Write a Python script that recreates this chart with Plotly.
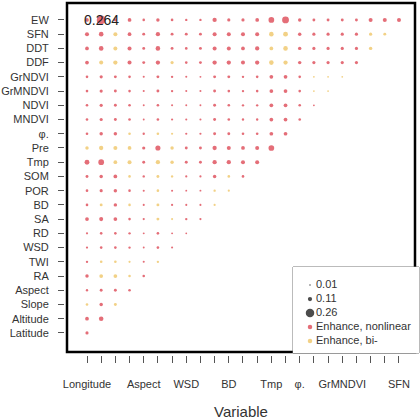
import plotly.graph_objects as go

# Column (x) variables, left to right
col_vars = ["Longitude", "Latitude", "Altitude", "Slope", "Aspect", "RA", "TWI",
            "WSD", "RD", "SA", "BD", "POR", "SOM", "Tmp", "Pre", "φ.", "MNDVI",
            "NDVI", "GrMNDVI", "GrNDVI", "DDF", "DDT", "SFN"]
# Row (y) variables, bottom to top
row_vars = ["Latitude", "Altitude", "Slope", "Aspect", "RA", "TWI", "WSD", "RD",
            "SA", "BD", "POR", "SOM", "Tmp", "Pre", "φ.", "MNDVI", "NDVI",
            "GrMNDVI", "GrNDVI", "DDF", "DDT", "SFN", "EW"]
shown_x_labels = ["Longitude", "Aspect", "WSD", "BD", "Tmp", "φ.", "GrMNDVI", "SFN"]

# interaction strength, one list per row (lower triangle)
strength = [
    [0.06],
    [0.08, 0.11],
    [0.04, 0.07, 0.05],
    [0.03, 0.05, 0.05, 0.04],
    [0.07, 0.08, 0.08, 0.04, 0.04],
    [0.03, 0.04, 0.04, 0.025, 0.02, 0.03],
    [0.025, 0.04, 0.04, 0.03, 0.015, 0.04, 0.02],
    [0.025, 0.04, 0.04, 0.03, 0.015, 0.04, 0.015, 0.01],
    [0.08, 0.09, 0.08, 0.04, 0.025, 0.05, 0.02, 0.03, 0.025],
    [0.04, 0.05, 0.07, 0.04, 0.02, 0.05, 0.025, 0.02, 0.02, 0.025],
    [0.04, 0.06, 0.07, 0.04, 0.02, 0.04, 0.02, 0.015, 0.015, 0.03, 0.025],
    [0.05, 0.07, 0.08, 0.04, 0.03, 0.05, 0.03, 0.025, 0.025, 0.07, 0.04, 0.04],
    [0.12, 0.15, 0.08, 0.09, 0.05, 0.10, 0.07, 0.05, 0.05, 0.10, 0.10, 0.09, 0.09],
    [0.07, 0.10, 0.09, 0.08, 0.06, 0.13, 0.07, 0.05, 0.05, 0.10, 0.09, 0.08, 0.09, 0.15],
    [0.04, 0.07, 0.07, 0.04, 0.03, 0.04, 0.025, 0.025, 0.025, 0.05, 0.05, 0.04, 0.04, 0.08, 0.08],
    [0.04, 0.06, 0.05, 0.04, 0.015, 0.04, 0.025, 0.02, 0.02, 0.05, 0.04, 0.03, 0.03, 0.08, 0.08, 0.04],
    [0.04, 0.06, 0.05, 0.04, 0.015, 0.04, 0.02, 0.015, 0.015, 0.05, 0.04, 0.03, 0.03, 0.08, 0.08, 0.04, 0.01],
    [0.04, 0.06, 0.05, 0.04, 0.02, 0.05, 0.03, 0.02, 0.02, 0.05, 0.04, 0.03, 0.04, 0.08, 0.08, 0.04, 0.01, 0.01],
    [0.04, 0.06, 0.05, 0.04, 0.02, 0.05, 0.03, 0.02, 0.015, 0.05, 0.05, 0.03, 0.04, 0.08, 0.08, 0.04, 0.01, 0.01, 0.01],
    [0.08, 0.09, 0.10, 0.09, 0.05, 0.10, 0.06, 0.04, 0.05, 0.10, 0.10, 0.09, 0.10, 0.11, 0.10, 0.07, 0.06, 0.06, 0.06, 0.06],
    [0.08, 0.11, 0.09, 0.09, 0.05, 0.11, 0.05, 0.04, 0.05, 0.09, 0.09, 0.08, 0.10, 0.08, 0.11, 0.07, 0.06, 0.06, 0.06, 0.06, 0.07],
    [0.09, 0.11, 0.09, 0.08, 0.05, 0.10, 0.05, 0.05, 0.05, 0.09, 0.09, 0.09, 0.09, 0.11, 0.12, 0.07, 0.06, 0.06, 0.06, 0.06, 0.06, 0.05],
    [0.08, 0.264, 0.06, 0.08, 0.04, 0.07, 0.04, 0.03, 0.03, 0.10, 0.06, 0.06, 0.08, 0.15, 0.19, 0.07, 0.05, 0.05, 0.05, 0.05, 0.09, 0.09, 0.09],
]
# n = Enhance, nonlinear ; b = Enhance, bi-
effect = [
    "n", "nn", "bnb", "nnnn", "nbbbn", "nbbbnb", "nnnnnnn", "nnnnnnnn",
    "nnnnnbbnn", "nbnbnbnnnb", "nnnnnbnnnbb", "nnnbnbbnnnbn",
    "nnbbnbbnnnnnn", "bbbbnnbnnnnnnn", "nnnbnbbnnnnnnnn",
    "nnnnnnnnnnnnnnnn", "nnnnnnnnnnnnnnnnn", "nnnnnnnnnnnnnnnnbb",
    "nnnnnnnnnnnnnnnnbbb", "nbbnnnbnnnnnnbbnnnnn", "nnbnnnnnnnnnnbbnnnnnb",
    "nnbnnnnnnnnnnbbnnnnnbb", "nnnnnnnnnnnnnnnnnnnnnnn",
]
max_label = "0.264"

legend_sizes = [0.01, 0.11, 0.26]
legend_labels = ["0.01", "0.11", "0.26", "Enhance, nonlinear", "Enhance, bi-"]

RED = "#D9303F"
YELLOW = "#EDBD52"
FONT = "Liberation Sans, Arial, sans-serif"


def dot_size(v):
    return 1.5 + 28 * v


pts = {"n": ([], [], []), "b": ([], [], [])}
for r, rv in enumerate(row_vars):
    for c, v in enumerate(strength[r]):
        xs, ys, ss = pts[effect[r][c]]
        xs.append(col_vars[c])
        ys.append(rv)
        ss.append(dot_size(v))

fig = go.Figure()
for key, color in (("n", RED), ("b", YELLOW)):
    xs, ys, ss = pts[key]
    fig.add_trace(go.Scatter(x=xs, y=ys, mode="markers", showlegend=False,
                             marker=dict(size=ss, color=color, line=dict(width=0))))

# hand-made legend in its own small subplot
leg_colors = ["#000000", "#000000", "#000000", RED, YELLOW]
leg_sizes = [dot_size(v) - 0.3 for v in legend_sizes] + [4.5, 4.5]
fig.add_trace(go.Scatter(x=[17] * 5, y=legend_labels, mode="markers", showlegend=False,
                         xaxis="x2", yaxis="y2",
                         marker=dict(size=leg_sizes, color=leg_colors, line=dict(width=0))))
fig.add_trace(go.Scatter(x=[23] * 5, y=legend_labels, mode="text", text=legend_labels,
                         textposition="middle right", showlegend=False,
                         xaxis="x2", yaxis="y2",
                         textfont=dict(family=FONT, size=11, color="#333333")))

fig.add_annotation(x=col_vars[0], y=row_vars[-1], text=max_label, showarrow=False,
                   xanchor="left", xshift=-5, font=dict(family=FONT, size=14, color="#222222"))

L, R, T, B = 64, 1, 3, 65
pw, ph = 420 - L - R, 420 - T - B
fx0, fx1 = (67 - L) / pw, (415 - L) / pw
fy0, fy1 = (420 - B - 352) / ph, 1.0

fig.update_layout(
    width=420, height=420,
    margin=dict(l=L, r=R, t=T, b=B),
    paper_bgcolor="white", plot_bgcolor="white",
    font=dict(family=FONT, size=11, color="#333333"),
    xaxis=dict(
        domain=[fx0, fx1], anchor="free", position=0,
        type="category", categoryorder="array", categoryarray=col_vars,
        range=[-1.41, 23.13],
        tickvals=col_vars,
        ticktext=[v if v in shown_x_labels else "" for v in col_vars],
        ticks="outside", ticklen=7, tickwidth=1, tickcolor="#555555",
        ticklabelstandoff=12,
        showgrid=False, zeroline=False, showline=False,
        tickfont=dict(size=11, color="#333333"),
        title=dict(text="Variable", standoff=18, font=dict(size=15, color="#333333")),
    ),
    yaxis=dict(
        domain=[fy0, fy1], anchor="free", position=0,
        type="category", categoryorder="array", categoryarray=row_vars,
        range=[-1.34, 23.19],
        ticks="outside", ticklen=6, tickwidth=1, tickcolor="#555555",
        ticklabelstandoff=7,
        showgrid=False, zeroline=False, showline=False,
        tickfont=dict(size=11, color="#333333"),
    ),
    xaxis2=dict(domain=[(293 - L) / pw, 1.0], anchor="y2", range=[0, 126],
                visible=False, fixedrange=True),
    yaxis2=dict(domain=[(420 - B - 353) / ph, (420 - B - 267) / ph], anchor="x2",
                type="category", categoryorder="array", categoryarray=legend_labels,
                range=[4.86, -1.29], visible=False, fixedrange=True),
    shapes=[
        dict(type="rect", xref="paper", yref="paper", x0=fx0, x1=fx1, y0=fy0, y1=fy1,
             line=dict(color="black", width=2.5), layer="below"),
        dict(type="rect", xref="paper", yref="paper",
             x0=(293 - L) / pw, x1=(419 - L) / pw,
             y0=(420 - B - 353) / ph, y1=(420 - B - 267) / ph,
             fillcolor="white", line=dict(color="#777777", width=1), layer="below"),
    ],
)

# the page's default body margin would shift the chart by 8px
fig.write_html("out.html", config={"displayModeBar": False},
               post_script="document.body.style.margin='0px';")
